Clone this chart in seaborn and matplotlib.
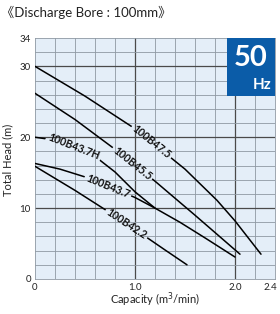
import matplotlib
matplotlib.use("Agg")
import matplotlib.pyplot as plt
import matplotlib.transforms as mtransforms
from matplotlib.path import Path
from matplotlib.font_manager import FontProperties
import seaborn as sns
import pandas as pd
import numpy as np
from matplotlib.patches import Rectangle

# ---- data ----
cap_47_5 = [0, 0.5, 1.0, 1.5, 1.82, 2.0, 2.26]
head_47_5 = [30, 25.8, 21.2, 15.5, 11.1, 8.2, 3.5]

cap_45_5 = [0, 0.4, 0.8, 1.2, 1.6, 2.05]
head_45_5 = [26.2, 22.5, 18.3, 13.8, 9.0, 3.5]

cap_43_7H = [0, 0.2, 0.4, 0.6, 0.8, 1.0, 1.2, 1.45, 1.7, 2.0]
head_43_7H = [20, 19.6, 18.7, 17.3, 15.1, 12.3, 10.0, 8.0, 5.8, 3.1]

cap_43_7 = [0, 0.25, 0.5, 0.85, 1.0, 1.2]
head_43_7 = [16.3, 15.5, 14.4, 12.4, 11.5, 10.0]

cap_42_2 = [0, 0.4, 0.7, 1.0, 1.3, 1.52]
head_42_2 = [15.9, 12.5, 9.8, 7.0, 4.1, 2.0]

models = ["100B47.5", "100B45.5", "100B43.7H", "100B43.7", "100B42.2"]
label_x = [1.165, 0.975, 0.39, 0.73, 0.915]
x_ticks = [0, 1.0, 2.0, 2.4]
x_ticklabels = ["0", "1.0", "2.0", "2.4"]
y_ticks = [0, 10, 20, 30, 34]
y_ticklabels = ["0", "10", "20", "30", "34"]

title = "《Discharge Bore : 100mm》"
xlabel = "Capacity (m$^3$/min)"
ylabel = "Total Head (m)"

# ---- build long-form table ----
series = [(cap_47_5, head_47_5), (cap_45_5, head_45_5), (cap_43_7H, head_43_7H),
          (cap_43_7, head_43_7), (cap_42_2, head_42_2)]
rows = []
for m, (xs, ys) in zip(models, series):
    for x, y in zip(xs, ys):
        rows.append({"model": m, "capacity": x, "head": y})
df = pd.DataFrame(rows)

sns.set_style("white")
plt.rcParams["font.family"] = ["Lato", "Noto Sans CJK JP", "DejaVu Sans"]

fig = plt.figure(figsize=(2.8, 3.14), dpi=100)
ax = fig.add_axes([35/280, 1-279/314, 240/280, 241/314])
ax.set_facecolor("#e4eef8")

# grid
minor_c = "#8f99a3"
major_c = "#4a4a4a"
for i in range(1, 12):
    xv = round(i * 0.2, 2)
    if abs(xv - 1.0) < 1e-6 or abs(xv - 2.0) < 1e-6:
        ax.axvline(xv, color=major_c, lw=0.9, zorder=1)
    else:
        ax.axvline(xv, color=minor_c, lw=0.6, zorder=1)
for yv in range(2, 34, 2):
    if yv in (10, 20, 30):
        ax.axhline(yv, color=major_c, lw=0.9, zorder=1)
    else:
        ax.axhline(yv, color=minor_c, lw=0.6, zorder=1)

n0 = len(ax.lines)
sns.lineplot(data=df, x="capacity", y="head", hue="model", hue_order=models,
             units="model", estimator=None, sort=False,
             palette=["black"] * len(models),
             linewidth=1.1, legend=False, ax=ax, zorder=3)
curves = ax.lines[n0:]

ax.set_xlim(0, 2.4)
ax.set_ylim(0, 34)
ax.set_xticks(x_ticks)
ax.set_xticklabels(x_ticklabels)
ax.set_yticks(y_ticks)
ax.set_yticklabels(y_ticklabels)
ax.tick_params(length=0, labelsize=7, colors="#222222", pad=3)
xt = ax.get_xticklabels()
xt[-1].set_transform(xt[-1].get_transform() +
                     mtransforms.ScaledTranslation(-5/100, 0, fig.dpi_scale_trans))
ax.set_xlabel("")
ax.set_ylabel("")
for s in ["top", "left", "right", "bottom"]:
    ax.spines[s].set_color(minor_c)
    ax.spines[s].set_linewidth(0.6)

# inline curve labels: the curve is interrupted where its label sits
fig.canvas.draw()
renderer = fig.canvas.get_renderer()
prop = FontProperties(family=["Lato", "DejaVu Sans"], weight="bold", size=7.6)
axbb = ax.bbox
outer = [(axbb.x0 - 5, axbb.y0 - 5), (axbb.x1 + 5, axbb.y0 - 5),
         (axbb.x1 + 5, axbb.y1 + 5), (axbb.x0 - 5, axbb.y1 + 5)]
for line, m, (xs, ys), lx in zip(curves, models, series, label_x):
    ly = float(np.interp(lx, xs, ys))
    p1 = ax.transData.transform((lx - 0.05, np.interp(lx - 0.05, xs, ys)))
    p2 = ax.transData.transform((lx + 0.05, np.interp(lx + 0.05, xs, ys)))
    ang = np.degrees(np.arctan2(p2[1] - p1[1], p2[0] - p1[0]))
    ax.text(lx, ly, m, rotation=ang, ha="center", va="center", fontproperties=prop,
            color="#111111", zorder=4, rotation_mode="anchor")
    w, h, d = renderer.get_text_width_height_descent(m, prop, ismath=False)
    c = ax.transData.transform((lx, ly))
    a = np.radians(ang)
    u = np.array([np.cos(a), np.sin(a)])
    nv = np.array([-np.sin(a), np.cos(a)])
    hw = w / 2 + 2.0
    hh = h / 2 + 2.0
    hole = [c - u * hw - nv * hh, c - u * hw + nv * hh,
            c + u * hw + nv * hh, c + u * hw - nv * hh]  # clockwise
    verts = outer + [outer[0]] + [tuple(p) for p in hole] + [tuple(hole[0])]
    codes = ([Path.MOVETO] + [Path.LINETO] * 3 + [Path.CLOSEPOLY] +
             [Path.MOVETO] + [Path.LINETO] * 3 + [Path.CLOSEPOLY])
    line.set_clip_path(Path(verts, codes), mtransforms.IdentityTransform())

# 50 Hz badge
ax.add_patch(Rectangle((1.92, 25.8), 0.48, 8.2, facecolor="#0b5ca8",
                       edgecolor="none", zorder=5, clip_on=False))
ax.text(2.155, 31.2, "50", color="white", fontsize=21, fontweight="bold",
        ha="center", va="center", zorder=6)
ax.text(2.37, 27.3, "Hz", color="white", fontsize=11, fontweight="bold",
        ha="right", va="center", zorder=6)

fig.text(0.005, 1-12/314, title, fontsize=9.5, va="center", ha="left", color="#222222")
fig.text(155/280, 1-300/314, xlabel, fontsize=8, ha="center", va="center", color="#222222")
fig.text(8/280, 1-160/314, ylabel, fontsize=8, ha="center", va="center",
         rotation=90, color="#222222")

fig.savefig("out.png", dpi=100)
